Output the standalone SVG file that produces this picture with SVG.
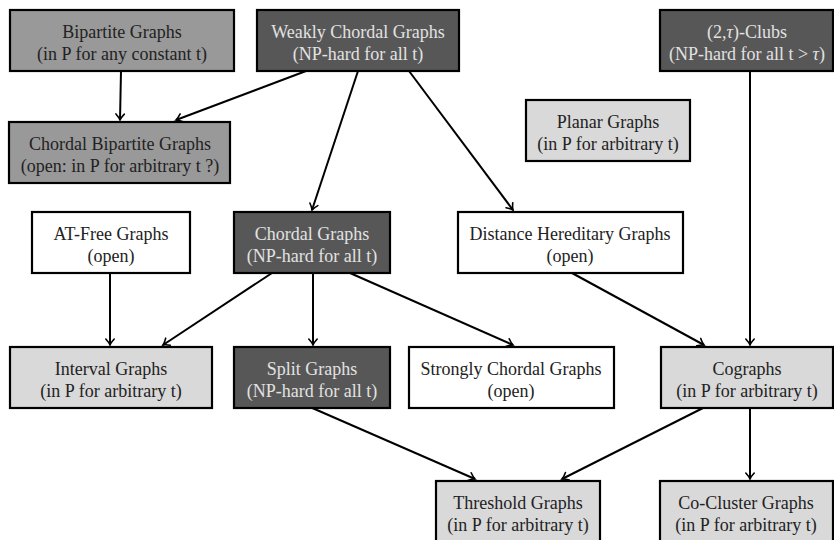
<svg xmlns="http://www.w3.org/2000/svg" width="834" height="540" viewBox="0 0 834 540">
<defs>
<marker id="arr" markerUnits="userSpaceOnUse" markerWidth="14" markerHeight="14" viewBox="-8 -7 10 14" refX="0" refY="0" orient="auto">
<path d="M-6,-4.2 Q-2.5,-1 0,0 Q-2.5,1 -6,4.2" fill="none" stroke="#000" stroke-width="1.6" stroke-linecap="round"/>
</marker>
</defs>
<style>
rect{stroke:#000;stroke-width:2.2}
.mid{fill:#999999}
.dark{fill:#575757}
.light{fill:#d9d9d9}
.white{fill:#ffffff}
text{font-family:"Liberation Serif","Times New Roman",serif;font-size:18px;text-anchor:middle;fill:#222}
.dt{fill:#e2e2e2}
#edges line{stroke:#000;stroke-width:2;marker-end:url(#arr)}
</style>
<g id="edges">
<line x1="121" y1="71" x2="120" y2="120"/>
<line x1="306" y1="71" x2="176" y2="120"/>
<line x1="358" y1="71" x2="312" y2="210"/>
<line x1="409" y1="71" x2="513" y2="210"/>
<line x1="750" y1="71" x2="750" y2="345"/>
<line x1="110" y1="273" x2="110" y2="345"/>
<line x1="272" y1="273" x2="163" y2="345"/>
<line x1="313" y1="273" x2="313" y2="345"/>
<line x1="350" y1="273" x2="513" y2="345"/>
<line x1="572" y1="273" x2="704" y2="345"/>
<line x1="310" y1="407" x2="475" y2="479"/>
<line x1="705" y1="407" x2="562" y2="479"/>
<line x1="750" y1="407" x2="750" y2="479"/>
</g>
<g id="bipartite">
<rect class="mid" x="10" y="10" width="224" height="61"/>
<text x="122" y="38">Bipartite Graphs</text>
<text x="122" y="60">(in P for any constant t)</text>
</g>
<g id="weakly-chordal">
<rect class="dark" x="257" y="10" width="202" height="61"/>
<text class="dt" x="358" y="38">Weakly Chordal Graphs</text>
<text class="dt" x="358" y="60">(NP-hard for all t)</text>
</g>
<g id="clubs">
<rect class="dark" x="660" y="10" width="173" height="61"/>
<text class="dt" x="747" y="38">(2,<tspan font-style="italic">τ</tspan>)-Clubs</text>
<text class="dt" x="747" y="60">(NP-hard for all t &gt; <tspan font-style="italic">τ</tspan>)</text>
</g>
<g id="planar">
<rect class="light" x="526" y="100" width="164" height="61"/>
<text x="608" y="128">Planar Graphs</text>
<text x="608" y="150">(in P for arbitrary t)</text>
</g>
<g id="chordal-bipartite">
<rect class="mid" x="9" y="122" width="221" height="61"/>
<text x="120" y="150">Chordal Bipartite Graphs</text>
<text x="120" y="172">(open: in P for arbitrary t ?)</text>
</g>
<g id="at-free">
<rect class="white" x="32" y="212" width="158" height="61"/>
<text x="111" y="240">AT-Free Graphs</text>
<text x="111" y="262">(open)</text>
</g>
<g id="chordal">
<rect class="dark" x="234" y="212" width="156" height="61"/>
<text class="dt" x="312" y="240">Chordal Graphs</text>
<text class="dt" x="312" y="262">(NP-hard for all t)</text>
</g>
<g id="distance-hereditary">
<rect class="white" x="458" y="212" width="225" height="61"/>
<text x="570" y="240">Distance Hereditary Graphs</text>
<text x="570" y="262">(open)</text>
</g>
<g id="interval">
<rect class="light" x="10" y="347" width="202" height="61"/>
<text x="111" y="375">Interval Graphs</text>
<text x="111" y="397">(in P for arbitrary t)</text>
</g>
<g id="split">
<rect class="dark" x="234" y="347" width="156" height="61"/>
<text class="dt" x="312" y="375">Split Graphs</text>
<text class="dt" x="312" y="397">(NP-hard for all t)</text>
</g>
<g id="strongly-chordal">
<rect class="white" x="409" y="347" width="205" height="61"/>
<text x="511" y="375">Strongly Chordal Graphs</text>
<text x="511" y="397">(open)</text>
</g>
<g id="cographs">
<rect class="light" x="661" y="347" width="172" height="61"/>
<text x="747" y="375">Cographs</text>
<text x="747" y="397">(in P for arbitrary t)</text>
</g>
<g id="threshold">
<rect class="light" x="436" y="481" width="164" height="61"/>
<text x="518" y="509">Threshold Graphs</text>
<text x="518" y="531">(in P for arbitrary t)</text>
</g>
<g id="co-cluster">
<rect class="light" x="660" y="481" width="173" height="61"/>
<text x="746" y="509">Co-Cluster Graphs</text>
<text x="746" y="531">(in P for arbitrary t)</text>
</g>
</svg>
